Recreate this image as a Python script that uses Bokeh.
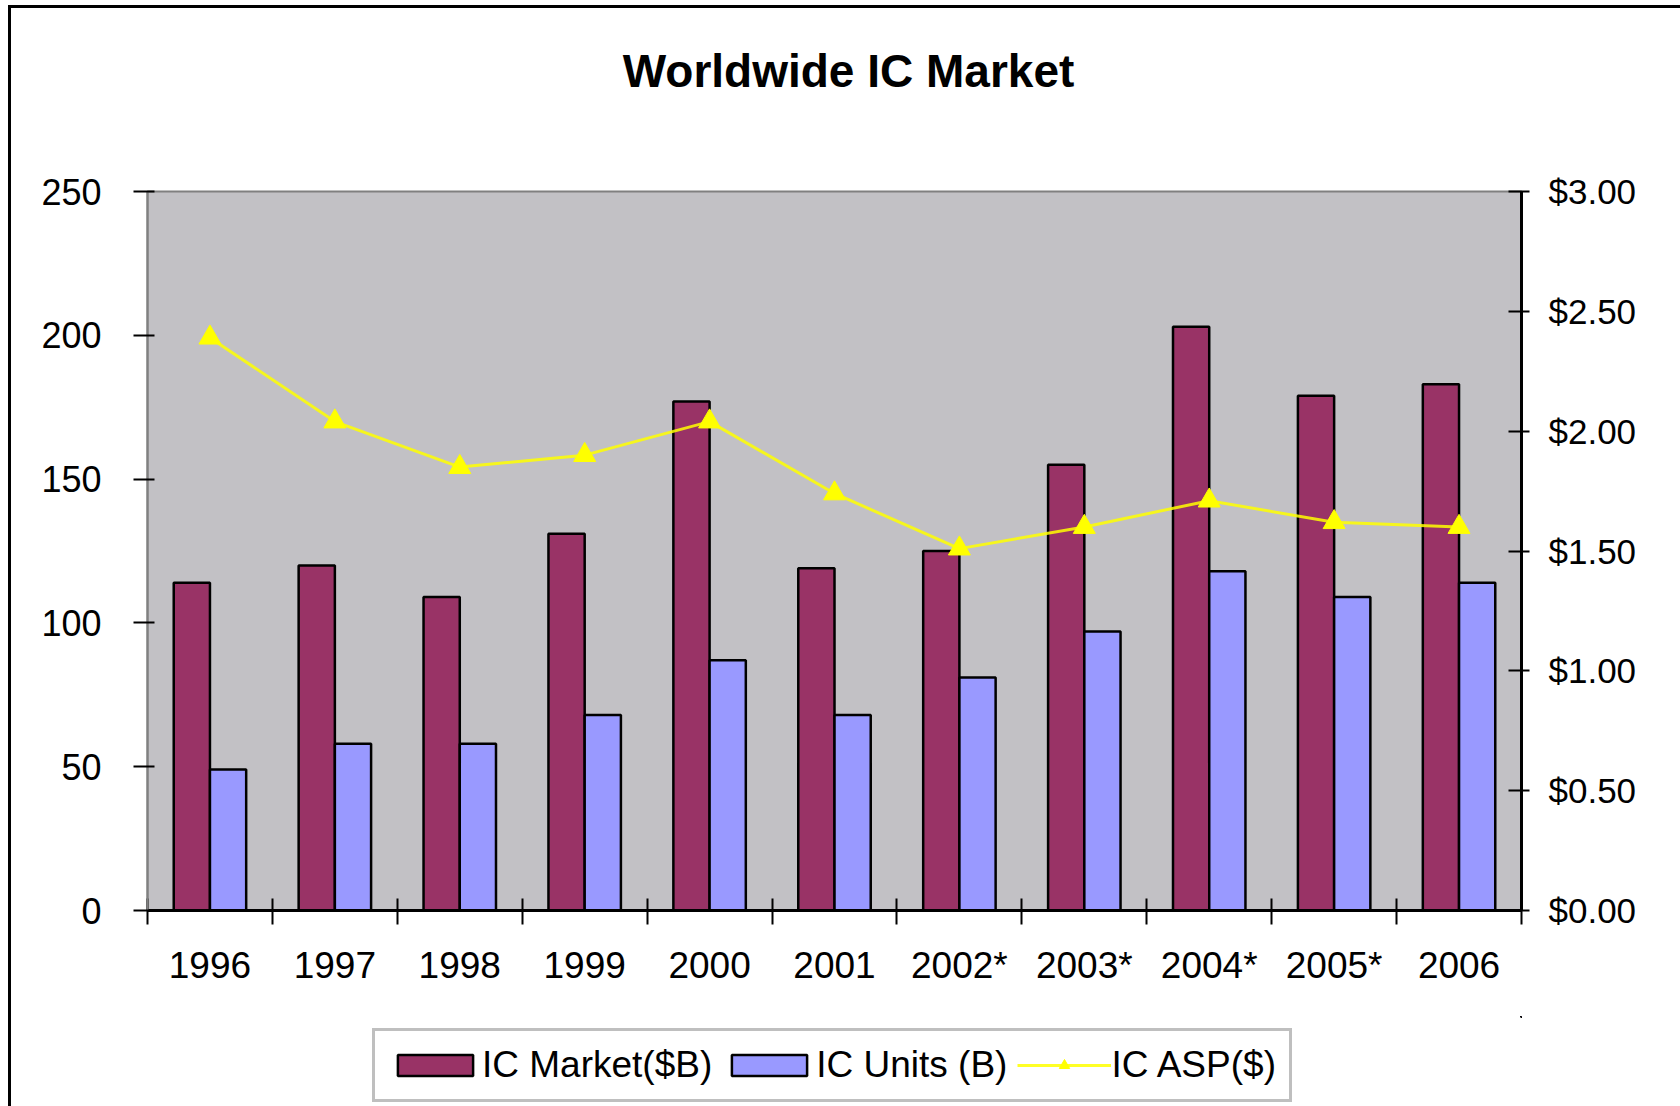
from bokeh.plotting import figure
from bokeh.layouts import column
from bokeh.models import (ColumnDataSource, Range1d, LinearAxis, FixedTicker, Legend,
                          LegendItem, NumeralTickFormatter, Label)
from bokeh.embed import file_html
from bokeh.resources import INLINE

# Worldwide IC market, 1996-2006 (* = forecast)
years = ["1996", "1997", "1998", "1999", "2000", "2001", "2002*", "2003*", "2004*", "2005*", "2006"]
ic_market = [114, 120, 109, 131, 177, 119, 125, 155, 203, 179, 183]   # $B
ic_units = [49, 58, 58, 68, 87, 68, 81, 97, 118, 109, 114]            # billions of units
ic_asp = [2.39, 2.04, 1.85, 1.90, 2.04, 1.74, 1.51, 1.60, 1.71, 1.62, 1.60]  # $
left_ticks = [0, 50, 100, 150, 200, 250]
right_ticks = [0, 0.5, 1.0, 1.5, 2.0, 2.5, 3.0]

MAROON = "#993366"
PERIWINKLE = "#9999FF"
YELLOW = "#FFFF00"
PLOT_GRAY = "#C2C1C5"
FONT = "Liberation Sans"

FRAME_W = 1374   # width of the plot area in px
n = len(years)
bar_w = 0.29
centers = [i + 0.5 for i in range(n)]
src = ColumnDataSource(dict(
    x=centers,
    xm=[c - bar_w / 2 for c in centers],
    xu=[c + bar_w / 2 for c in centers],
    market=ic_market,
    units=ic_units,
    asp=ic_asp,
))

market_style = dict(fill_color=MAROON, line_color="black", line_width=2.5)
units_style = dict(fill_color=PERIWINKLE, line_color="black", line_width=2.5)
line_style = dict(line_color=YELLOW, line_width=3, line_alpha=0.85)
marker_style = dict(marker="triangle", size=22, fill_color=YELLOW, line_color=YELLOW)


def draw_series(fig, y_range_name):
    """Bars for market and units, plus the ASP line with markers."""
    rm = fig.vbar(x="xm", top="market", bottom=0, width=bar_w, source=src, **market_style)
    ru = fig.vbar(x="xu", top="units", bottom=0, width=bar_w, source=src, **units_style)
    rl = fig.line(x="x", y="asp", source=src, y_range_name=y_range_name, **line_style)
    rp = fig.scatter(x="x", y="asp", source=src, y_range_name=y_range_name, **marker_style)
    return rm, ru, rl, rp


def blank_strip(height, **kw):
    f = figure(width=1669, height=height, output_backend="svg", toolbar_location=None,
               x_axis_type=None, y_axis_type=None, min_border=0, **kw)
    f.outline_line_color = None
    f.background_fill_color = "white"
    f.border_fill_color = "white"
    return f


# ---- title strip --------------------------------------------------------------
head = blank_strip(100, x_range=Range1d(0, FRAME_W), y_range=Range1d(0, 100))
head.add_layout(Label(x=701, y=38, text="Worldwide IC Market", text_font=FONT,
                      text_font_style="bold", text_font_size="46px", text_color="black",
                      text_align="center", text_baseline="alphabetic"))

# ---- main chart -------------------------------------------------------------
p = figure(width=1669, height=908, x_range=Range1d(0, n), y_range=Range1d(0, 250),
           output_backend="svg", toolbar_location=None, title_location=None,
           min_border_left=136, min_border_right=159, min_border_top=83, min_border_bottom=106)
p.extra_y_ranges = {"asp": Range1d(0, 3.0)}

p.background_fill_color = PLOT_GRAY
p.border_fill_color = "white"
p.outline_line_color = "#808080"
p.outline_line_width = 2
p.xgrid.grid_line_color = None
p.ygrid.grid_line_color = None

draw_series(p, "asp")

xax = p.below[0]
yax = p.left[0]

# category axis: labels at centres, tick marks between categories
xax.ticker = FixedTicker(ticks=centers, minor_ticks=list(range(n + 1)))
xax.major_label_overrides = {c: y for c, y in zip(centers, years)}
xax.major_tick_in = 0
xax.major_tick_out = 0
xax.minor_tick_in = 12
xax.minor_tick_out = 14
xax.minor_tick_line_color = "black"
xax.minor_tick_line_width = 2
xax.axis_line_color = "black"
xax.axis_line_width = 3
xax.major_label_text_font = FONT
xax.major_label_text_font_size = "37px"
xax.major_label_text_color = "black"
xax.major_label_standoff = 20

# left value axis
yax.ticker = FixedTicker(ticks=left_ticks, minor_ticks=[])
yax.major_tick_in = 7
yax.major_tick_out = 14
yax.major_tick_line_color = "black"
yax.major_tick_line_width = 2
yax.axis_line_color = "#808080"
yax.axis_line_width = 2
yax.major_label_text_font = FONT
yax.major_label_text_font_size = "36px"
yax.major_label_text_color = "black"
yax.major_label_standoff = 32

# right price axis
rax = LinearAxis(y_range_name="asp", ticker=FixedTicker(ticks=right_ticks, minor_ticks=[]),
                 formatter=NumeralTickFormatter(format="$0.00"))
rax.major_tick_in = 13
rax.major_tick_out = 8
rax.major_tick_line_color = "black"
rax.major_tick_line_width = 2
rax.axis_line_color = "black"
rax.axis_line_width = 3
rax.major_label_text_font = FONT
rax.major_label_text_font_size = "35px"
rax.major_label_text_color = "black"
rax.major_label_standoff = 19
p.add_layout(rax, "right")

# ---- legend strip -----------------------------------------------------------
# same series, viewed through ranges that keep them out of sight, so only the
# legend swatches show
leg = blank_strip(90, x_range=Range1d(-2, -1), y_range=Range1d(-2, -1))
leg.extra_y_ranges = {"asp": Range1d(-2, -1)}
k_market, k_units, k_line, k_pts = draw_series(leg, "asp")

legend = Legend(items=[
    LegendItem(label="IC Market($B)", renderers=[k_market]),
    LegendItem(label="IC Units (B)", renderers=[k_units]),
    LegendItem(label="IC ASP($)", renderers=[k_line, k_pts]),
], orientation="horizontal", location=(225, 4),
    glyph_width=94, glyph_height=26, label_standoff=0, spacing=10, padding=13, margin=0,
    label_text_font=FONT, label_text_font_size="37px", label_text_color="black",
    border_line_color="#808080", border_line_width=3, background_fill_color="white",
    background_fill_alpha=1)
leg.add_layout(legend)

# chart-area frame: black rule along the top and left of the chart
page = column(head, p, leg, spacing=0,
              styles={"box-sizing": "content-box", "margin-left": "8px", "margin-top": "5px",
                      "border-left": "3px solid black", "border-top": "3px solid black"})

open("out.html", "w").write(file_html(page, INLINE))
